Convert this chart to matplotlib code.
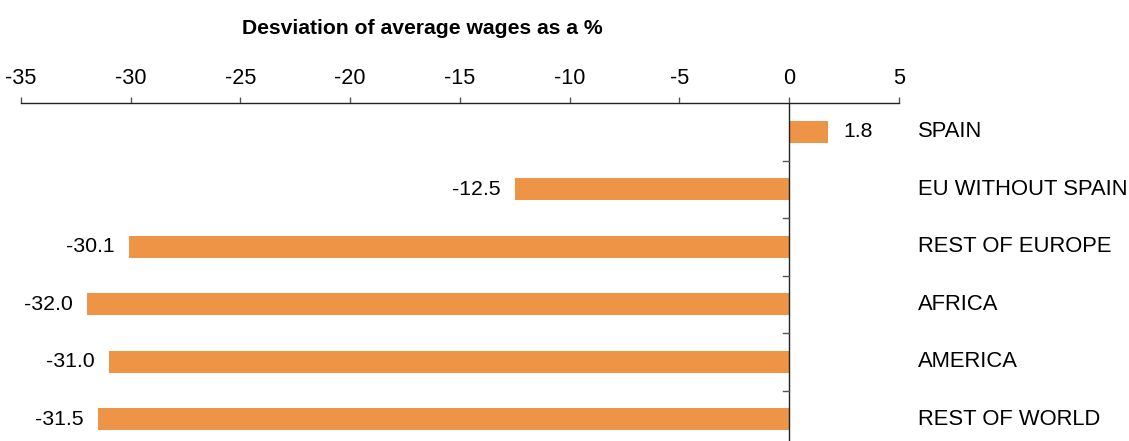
import matplotlib
matplotlib.use("Agg")
import matplotlib.pyplot as plt

categories = ["SPAIN", "EU WITHOUT SPAIN", "REST OF EUROPE", "AFRICA", "AMERICA", "REST OF WORLD"]
values = [1.8, -12.5, -30.1, -32.0, -31.0, -31.5]
xticks = [-35, -30, -25, -20, -15, -10, -5, 0, 5]
title = "Desviation of average wages as a %"

plt.rcParams['font.family'] = ['Liberation Sans', 'DejaVu Sans']

W, H = 1129, 441
fig = plt.figure(figsize=(W / 100, H / 100), dpi=100)
left, right = 21 / W, 898.7 / W
top, bottom = 1 - 103 / H, 1 - 448 / H
ax = fig.add_axes([left, bottom, right - left, top - bottom])

n = len(categories)
ys = list(range(n))
ax.barh(ys, values, height=0.39, color="#EE9447", zorder=2)
ax.set_xlim(-35, 5)
ax.set_ylim(n - 0.5, -0.5)

ax.xaxis.set_ticks_position("top")
ax.xaxis.set_label_position("top")
ax.set_xticks(xticks)
ax.set_xticklabels([str(t) for t in xticks], fontsize=15.6)
ax.tick_params(axis="x", direction="out", length=4.3, width=1, color="#555555", pad=5.5)

for s in ["bottom", "left", "right"]:
    ax.spines[s].set_visible(False)
ax.spines["top"].set_color("#222222")
ax.spines["top"].set_linewidth(1.0)
ax.set_yticks([])

# vertical line at zero with boundary ticks
ax.axvline(0, color="#222222", lw=1.0, zorder=3)
for b in range(1, n):
    ax.plot([-0.27, 0], [b - 0.5, b - 0.5], color="#555555", lw=1.0, zorder=3, clip_on=False)

for y, v in zip(ys, values):
    if v < 0:
        ax.text(v - 0.65, y, f"{v:.1f}", ha="right", va="center", fontsize=15.3)
    else:
        ax.text(v + 0.7, y, f"{v:.1f}", ha="left", va="center", fontsize=15.3)
    ax.text(5.9, y, categories[ys.index(y)], ha="left", va="center", fontsize=15.8, clip_on=False)

fig.text(422 / W, 1 - 28 / H, title, ha="center", va="center", fontsize=15.2, fontweight="bold")

fig.savefig("out.png", dpi=100)
